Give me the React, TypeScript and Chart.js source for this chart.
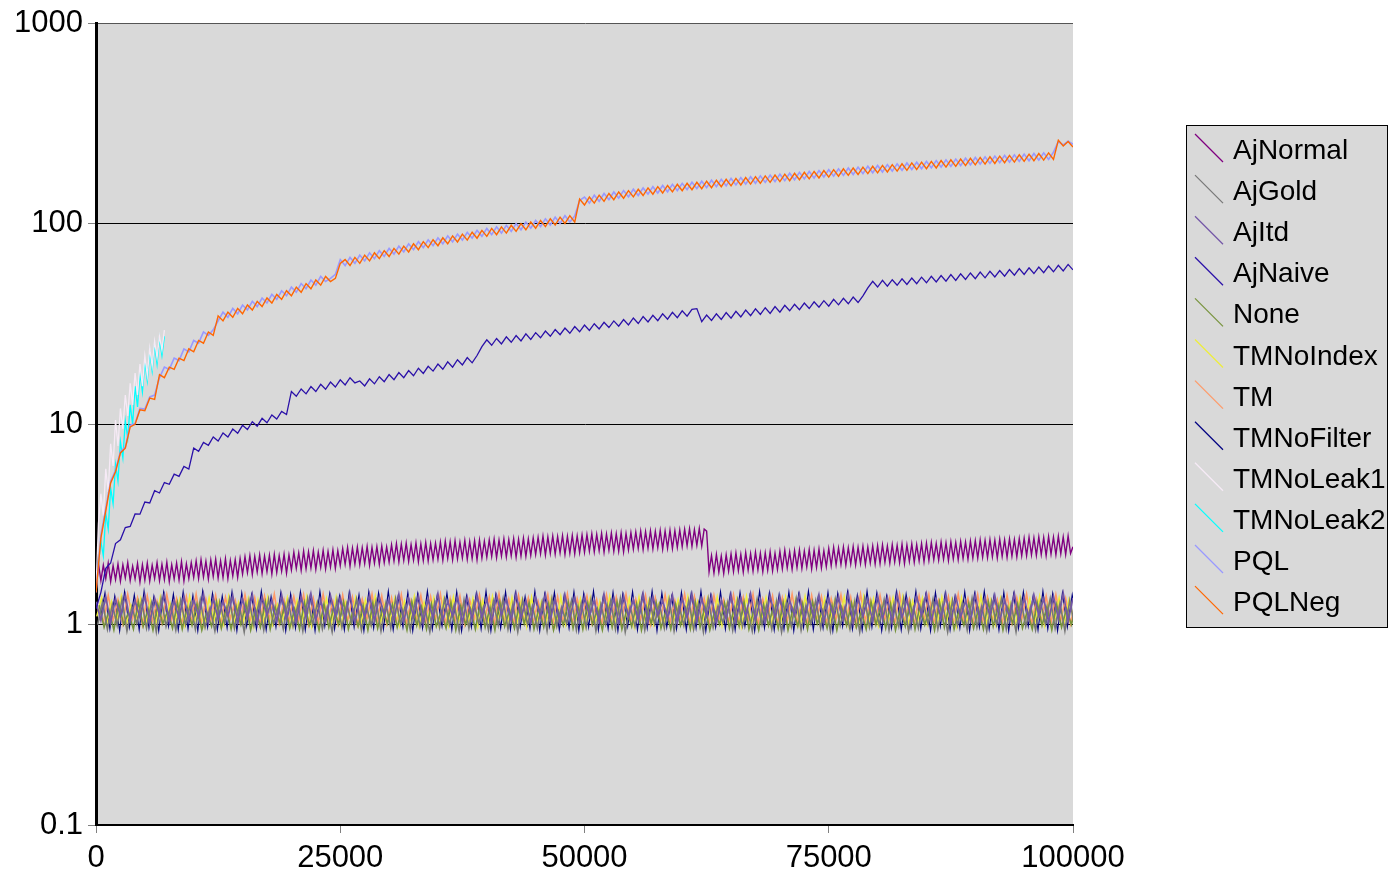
import React, { useEffect, useRef } from 'react';
import { Chart, registerables } from 'chart.js';

Chart.register(...registerables);

const FONT = "'Liberation Sans', Arial, Helvetica, sans-serif";

// ---------- axes ----------
const xTicks = [0, 25000, 50000, 75000, 100000];
const yTicks = [0.1, 1, 10, 100, 1000];
const yTickLabels = ['0.1', '1', '10', '100', '1000'];

// ---------- legend ----------
const seriesNames = ['AjNormal', 'AjGold', 'AjItd', 'AjNaive', 'None', 'TMNoIndex', 'TM', 'TMNoFilter', 'TMNoLeak1', 'TMNoLeak2', 'PQL', 'PQLNeg'];
const seriesColors = ['#800080', '#777777', '#7356a6', '#2a10a8', '#77933c', '#eeee3c', '#ff9966', '#000080', '#f6eaf6', '#00ffff', '#9999ff', '#ff6600'];

// ---------- sampling (x in data units) ----------
const STEP_FINE = 250;
const STEP = 500;
const bandStart = { AjItd: 0, AjGold: 170, None: 330, TMNoIndex: 80, TM: 250, TMNoFilter: 420 };

// ---------- series values ----------
const ajNormal = [
  1.45, 2.02, 1.66, 1.98, 1.70, 2.03, 1.64, 1.97, 1.68, 2.01, 1.65, 1.99, 1.71, 2.04, 1.66, 1.96, 1.69, 2.02, 1.63, 1.99,
  1.67, 2.03, 1.65, 1.98, 1.70, 2.04, 1.66, 2.00, 1.68, 2.05, 1.64, 1.99, 1.69, 2.03, 1.67, 2.06, 1.65, 2.01, 1.70, 2.04,
  1.72, 2.08, 1.70, 2.11, 1.73, 2.07, 1.69, 2.10, 1.74, 2.12, 1.71, 2.08, 1.72, 2.13, 1.70, 2.09, 1.75, 2.11, 1.72, 2.14,
  1.79, 2.18, 1.82, 2.21, 1.78, 2.19, 1.83, 2.23, 1.80, 2.20, 1.84, 2.22, 1.79, 2.24, 1.82, 2.21, 1.85, 2.25, 1.81, 2.23,
  1.88, 2.30, 1.91, 2.28, 1.87, 2.33, 1.90, 2.31, 1.92, 2.34, 1.89, 2.30, 1.93, 2.35, 1.90, 2.32, 1.94, 2.36, 1.91, 2.34,
  1.97, 2.40, 2.00, 2.43, 1.96, 2.41, 2.01, 2.44, 1.99, 2.42, 2.02, 2.46, 1.98, 2.43, 2.03, 2.45, 2.00, 2.47, 2.04, 2.44,
  2.05, 2.50, 2.08, 2.54, 2.06, 2.52, 2.09, 2.55, 2.07, 2.51, 2.10, 2.56, 2.06, 2.53, 2.09, 2.57, 2.08, 2.54, 2.11, 2.55,
  2.12, 2.58, 2.10, 2.61, 2.14, 2.59, 2.11, 2.62, 2.13, 2.58, 2.15, 2.63, 2.12, 2.60, 2.14, 2.62, 2.11, 2.64, 2.15, 2.61,
  2.17, 2.65, 2.19, 2.67, 2.16, 2.64, 2.20, 2.68, 2.18, 2.66, 2.21, 2.69, 2.17, 2.67, 2.20, 2.70, 2.19, 2.68, 2.22, 2.71,
  2.24, 2.73, 2.26, 2.76, 2.23, 2.74, 2.27, 2.77, 2.25, 2.75, 2.28, 2.78, 2.24, 2.76, 2.27, 2.79, 2.26, 2.77, 2.29, 2.80,
  2.30, 2.81, 2.33, 2.84, 2.31, 2.82, 2.34, 2.85, 2.30, 2.83, 2.35, 2.86, 2.32, 2.84, 2.33, 2.87, 2.31, 2.85, 2.36, 2.88,
  2.38, 2.90, 2.40, 2.93, 2.37, 2.91, 2.41, 2.94, 2.39, 2.92, 2.42, 2.95, 2.38, 2.93, 2.41, 2.96, 2.40, 2.94, 2.43, 2.97,
  2.45, 2.99, 2.48, 3.01, 2.46, 2.98, 2.49, 3.02, 2.47, 3.00, 2.93, 1.84, 2.21, 1.81, 2.24, 1.83, 2.20, 1.80, 2.23, 1.85,
  2.25, 1.84, 2.28, 1.86, 2.24, 1.83, 2.29, 1.87, 2.26, 1.85, 2.30, 1.88, 2.27, 1.84, 2.28, 1.87, 2.31, 1.86, 2.27, 1.89,
  2.32, 1.90, 2.35, 1.92, 2.31, 1.89, 2.34, 1.93, 2.36, 1.91, 2.33, 1.94, 2.37, 1.90, 2.35, 1.93, 2.38, 1.92, 2.34, 1.95,
  2.40, 1.97, 2.43, 1.99, 2.41, 2.00, 2.44, 1.98, 2.42, 2.01, 2.45, 1.99, 2.43, 2.02, 2.46, 2.00, 2.44, 2.03, 2.47, 2.01,
  2.48, 2.02, 2.50, 2.05, 2.47, 2.03, 2.51, 2.06, 2.49, 2.04, 2.52, 2.02, 2.50, 2.07, 2.53, 2.05, 2.51, 2.08, 2.54, 2.06,
  2.55, 2.09, 2.57, 2.11, 2.54, 2.10, 2.58, 2.12, 2.56, 2.09, 2.59, 2.13, 2.57, 2.11, 2.60, 2.14, 2.58, 2.12, 2.61, 2.15,
  2.62, 2.15, 2.65, 2.17, 2.63, 2.16, 2.66, 2.18, 2.64, 2.15, 2.67, 2.19, 2.65, 2.17, 2.68, 2.20, 2.66, 2.18, 2.69, 2.21,
  2.70, 2.21, 2.73, 2.23, 2.71, 2.22, 2.74, 2.24, 2.72, 2.21, 2.75, 2.25, 2.73, 2.23, 2.76, 2.26, 2.74, 2.24, 2.77, 2.27,
  2.45,
];

const ajGold = [
  1.00, 1.30, 0.95, 1.26, 0.99, 1.34, 0.93, 1.22, 1.01, 1.31, 0.96, 1.28, 0.92, 1.35, 0.98, 1.24, 0.94, 1.32, 1.00, 1.27,
  0.95, 1.33, 0.97, 1.21, 0.93, 1.30, 1.02, 1.35, 0.96, 1.25, 0.92, 1.32, 0.99, 1.28, 0.94, 1.34, 1.01, 1.23, 0.95, 1.31,
  0.98, 1.26, 0.93, 1.35, 1.00, 1.29, 0.95, 1.22, 0.92, 1.33, 0.97, 1.27, 1.02, 1.34, 0.94, 1.24, 0.99, 1.31, 0.93, 1.28,
  0.96, 1.35, 1.01, 1.25, 0.94, 1.32, 0.98, 1.21, 0.92, 1.30, 0.97, 1.34, 1.00, 1.26, 0.93, 1.33, 0.96, 1.29, 1.02, 1.23,
  0.94, 1.31, 0.99, 1.35, 0.95, 1.27, 0.92, 1.33, 1.00, 1.24, 0.96, 1.30, 0.93, 1.35, 0.98, 1.22, 1.01, 1.32, 0.94, 1.28,
  0.97, 1.34, 0.93, 1.26, 1.00, 1.31, 0.95, 1.35, 0.92, 1.23, 0.98, 1.29, 0.94, 1.33, 1.01, 1.27, 0.96, 1.34, 0.93, 1.25,
  0.99, 1.32, 0.95, 1.28, 0.92, 1.35, 0.97, 1.24, 1.02, 1.30, 0.94, 1.33, 0.98, 1.21, 0.93, 1.34, 1.00, 1.27, 0.95, 1.31,
  0.92, 1.29, 0.98, 1.35, 0.94, 1.25, 1.01, 1.32, 0.96, 1.28, 0.93, 1.34, 0.99, 1.23, 0.95, 1.31, 0.92, 1.35, 0.97, 1.26,
  1.00, 1.33, 0.94, 1.27, 0.98, 1.35, 0.93, 1.22, 0.96, 1.30, 1.01, 1.34, 0.95, 1.26, 0.92, 1.32, 0.99, 1.28, 0.94, 1.35,
  0.97, 1.24, 0.93, 1.31, 1.00, 1.34, 0.95, 1.27, 0.92, 1.33, 0.98, 1.23, 0.94, 1.30, 1.01, 1.35, 0.96, 1.28, 0.93, 1.32,
  0.98,
];

const ajItd = [
  1.30, 1.05, 1.38, 1.02, 1.35, 1.10, 1.41, 1.04, 1.32, 1.08, 1.40, 1.01, 1.36, 1.12, 1.42, 1.03, 1.33, 1.07, 1.39, 1.05,
  1.34, 1.09, 1.43, 1.02, 1.37, 1.06, 1.31, 1.10, 1.40, 1.03, 1.35, 1.08, 1.42, 1.01, 1.38, 1.11, 1.33, 1.04, 1.41, 1.07,
  1.36, 1.02, 1.39, 1.09, 1.43, 1.05, 1.32, 1.03, 1.40, 1.10, 1.37, 1.06, 1.42, 1.02, 1.34, 1.08, 1.41, 1.04, 1.38, 1.11,
  1.33, 1.05, 1.42, 1.03, 1.36, 1.09, 1.40, 1.01, 1.35, 1.07, 1.43, 1.04, 1.31, 1.10, 1.39, 1.02, 1.37, 1.06, 1.41, 1.08,
  1.34, 1.03, 1.40, 1.11, 1.36, 1.04, 1.43, 1.07, 1.32, 1.02, 1.38, 1.09, 1.42, 1.05, 1.35, 1.01, 1.41, 1.08, 1.37, 1.04,
  1.39, 1.10, 1.33, 1.03, 1.42, 1.06, 1.36, 1.02, 1.40, 1.09, 1.34, 1.05, 1.43, 1.03, 1.38, 1.11, 1.32, 1.07, 1.41, 1.02,
  1.37, 1.08, 1.42, 1.04, 1.35, 1.10, 1.39, 1.01, 1.33, 1.06, 1.41, 1.03, 1.36, 1.09, 1.43, 1.05, 1.34, 1.02, 1.40, 1.08,
  1.38, 1.04, 1.32, 1.11, 1.42, 1.03, 1.37, 1.07, 1.41, 1.02, 1.35, 1.09, 1.39, 1.05, 1.43, 1.01, 1.36, 1.10, 1.33, 1.04,
  1.40, 1.06, 1.37, 1.02, 1.42, 1.08, 1.34, 1.04, 1.39, 1.11, 1.43, 1.03, 1.35, 1.07, 1.41, 1.02, 1.38, 1.09, 1.32, 1.05,
  1.42, 1.03, 1.36, 1.10, 1.40, 1.04, 1.33, 1.08, 1.43, 1.02, 1.37, 1.06, 1.41, 1.11, 1.35, 1.03, 1.39, 1.07, 1.44, 1.04,
  1.36,
];

const ajNaive = [
  1.20, 1.45, 1.91, 2.03, 2.54, 2.65, 3.05, 3.09, 3.57, 3.56, 4.09, 4.05, 4.66, 4.54, 5.12, 5.02, 5.64, 5.50, 6.16, 5.98,
  7.61, 7.33, 8.12, 7.86, 8.64, 8.25, 9.06, 8.64, 9.47, 9.02, 9.88, 9.41, 10.30, 9.79, 10.71, 10.18, 11.13, 10.62, 11.59, 11.19,
  14.59, 13.80, 15.01, 14.19, 15.42, 14.57, 15.84, 14.96, 16.25, 15.34, 16.66, 15.73, 17.08, 16.10, 16.46, 15.54, 16.87, 15.92, 17.28, 16.31,
  17.70, 16.69, 18.11, 17.08, 18.53, 17.47, 19.04, 17.95, 19.46, 18.43, 19.98, 18.82, 20.49, 19.30, 21.01, 19.78, 21.53, 20.27, 22.05, 24.41,
  26.39, 24.80, 26.81, 25.19, 27.32, 25.67, 27.74, 26.06, 28.26, 26.54, 28.67, 27.02, 29.19, 27.50, 29.70, 27.99, 30.22, 28.47, 30.74, 28.95,
  31.26, 29.43, 31.77, 29.92, 32.29, 30.40, 32.81, 30.88, 33.33, 31.36, 33.95, 31.85, 34.47, 32.42, 34.98, 32.91, 35.60, 33.49, 36.23, 34.06,
  36.85, 34.64, 37.47, 37.80, 32.52, 35.09, 33.00, 35.60, 33.39, 36.12, 33.87, 36.64, 34.35, 37.16, 34.84, 37.67, 35.32, 38.19, 35.80, 38.71,
  36.28, 39.23, 36.86, 39.74, 37.35, 40.26, 37.83, 40.88, 38.41, 41.40, 38.89, 42.02, 39.47, 42.54, 39.95, 43.16, 40.53, 43.78, 47.96, 51.75,
  48.44, 52.27, 48.93, 52.68, 49.41, 53.20, 49.89, 53.72, 50.37, 54.23, 50.86, 54.75, 51.34, 55.27, 51.82, 55.89, 52.30, 56.41, 52.88, 56.93,
  53.36, 57.55, 53.85, 58.06, 54.43, 58.58, 54.91, 59.20, 55.49, 59.82, 55.97, 60.34, 56.55, 60.96, 57.13, 61.58, 57.71, 62.20, 58.29, 62.82,
  59.00,
];

const none = [
  1.25, 0.97, 1.18, 0.94, 1.28, 1.00, 1.15, 0.95, 1.30, 0.98, 1.20, 0.94, 1.26, 1.01, 1.17, 0.96, 1.29, 0.95, 1.22, 0.99,
  1.27, 0.94, 1.16, 0.98, 1.30, 0.96, 1.21, 0.95, 1.24, 1.00, 1.28, 0.94, 1.19, 0.97, 1.30, 0.95, 1.23, 1.01, 1.26, 0.96,
  1.20, 0.95, 1.29, 0.99, 1.17, 0.94, 1.27, 0.97, 1.22, 1.00, 1.30, 0.95, 1.18, 0.98, 1.25, 0.94, 1.28, 0.96, 1.21, 1.01,
  1.26, 0.97, 1.19, 0.94, 1.30, 0.99, 1.23, 0.95, 1.27, 0.98, 1.16, 0.96, 1.29, 0.94, 1.24, 1.00, 1.20, 0.95, 1.28, 0.97,
  1.22, 0.94, 1.30, 0.98, 1.18, 0.96, 1.26, 1.01, 1.29, 0.95, 1.21, 0.97, 1.27, 0.94, 1.17, 0.99, 1.30, 0.96, 1.24, 0.95,
  1.28, 1.00, 1.20, 0.94, 1.25, 0.97, 1.30, 0.95, 1.19, 0.98, 1.27, 0.94, 1.23, 1.01, 1.29, 0.96, 1.18, 0.95, 1.26, 0.99,
  1.21, 0.95, 1.30, 0.97, 1.24, 0.94, 1.17, 1.00, 1.28, 0.96, 1.22, 0.98, 1.30, 0.95, 1.19, 0.94, 1.26, 0.99, 1.23, 0.96,
  1.29, 0.94, 1.20, 0.98, 1.27, 0.95, 1.30, 1.01, 1.18, 0.96, 1.25, 0.94, 1.22, 0.99, 1.28, 0.97, 1.16, 0.95, 1.30, 1.00,
  1.23, 0.96, 1.27, 0.94, 1.19, 0.98, 1.29, 0.95, 1.24, 1.00, 1.21, 0.94, 1.30, 0.97, 1.26, 0.95, 1.18, 0.99, 1.28, 0.96,
  1.20, 0.95, 1.30, 0.98, 1.25, 0.94, 1.22, 1.01, 1.27, 0.96, 1.17, 0.95, 1.29, 0.99, 1.23, 0.94, 1.26, 0.97, 1.20, 1.00,
  1.24,
];

const tmNoIndex = [
  1.10, 1.36, 1.00, 1.30, 1.02, 1.38, 0.99, 1.25, 1.04, 1.35, 1.00, 1.32, 0.98, 1.37, 1.03, 1.28, 1.01, 1.34, 0.99, 1.38,
  1.02, 1.27, 0.98, 1.36, 1.04, 1.31, 1.00, 1.38, 0.99, 1.29, 1.03, 1.35, 0.98, 1.33, 1.01, 1.37, 1.00, 1.26, 1.04, 1.36,
  0.99, 1.32, 1.02, 1.38, 0.98, 1.28, 1.03, 1.35, 1.00, 1.37, 0.99, 1.30, 1.04, 1.36, 0.98, 1.33, 1.01, 1.38, 1.00, 1.27,
  1.03, 1.35, 0.99, 1.31, 1.02, 1.38, 0.98, 1.29, 1.04, 1.36, 1.00, 1.34, 0.99, 1.37, 1.03, 1.26, 1.01, 1.35, 0.98, 1.32,
  1.00, 1.38, 1.04, 1.28, 0.99, 1.36, 1.02, 1.33, 0.98, 1.37, 1.01, 1.30, 1.03, 1.35, 0.99, 1.38, 1.00, 1.27, 1.04, 1.34,
  0.98, 1.36, 1.01, 1.31, 1.03, 1.38, 0.99, 1.29, 1.02, 1.35, 0.98, 1.37, 1.04, 1.32, 1.00, 1.26, 0.99, 1.36, 1.03, 1.33,
  1.01, 1.38, 0.98, 1.30, 1.02, 1.35, 1.00, 1.37, 0.99, 1.28, 1.04, 1.34, 0.98, 1.38, 1.01, 1.31, 1.03, 1.36, 0.99, 1.29,
  1.02, 1.37, 1.00, 1.33, 0.98, 1.38, 1.03, 1.27, 1.01, 1.35, 0.99, 1.32, 1.04, 1.37, 0.98, 1.30, 1.02, 1.38, 1.00, 1.34,
  0.99, 1.29, 1.03, 1.36, 1.01, 1.38, 0.98, 1.31, 1.02, 1.35, 1.00, 1.27, 0.99, 1.37, 1.04, 1.33, 0.98, 1.36, 1.01, 1.30,
  1.03, 1.38, 0.99, 1.32, 1.00, 1.35, 1.02, 1.28, 0.98, 1.37, 1.04, 1.34, 1.00, 1.38, 0.99, 1.30, 1.03, 1.36, 1.01, 1.33,
  1.05,
];

const tm = [
  1.20, 1.02, 1.40, 1.05, 1.33, 1.01, 1.42, 1.07, 1.36, 1.00, 1.39, 1.04, 1.31, 1.02, 1.41, 1.06, 1.35, 1.00, 1.38, 1.03,
  1.42, 1.01, 1.34, 1.05, 1.40, 1.00, 1.37, 1.07, 1.32, 1.02, 1.41, 1.04, 1.36, 1.00, 1.39, 1.06, 1.42, 1.01, 1.33, 1.03,
  1.38, 1.05, 1.41, 1.00, 1.35, 1.02, 1.42, 1.06, 1.31, 1.01, 1.40, 1.04, 1.37, 1.00, 1.34, 1.07, 1.42, 1.02, 1.39, 1.01,
  1.36, 1.03, 1.41, 1.00, 1.32, 1.05, 1.40, 1.02, 1.38, 1.06, 1.42, 1.01, 1.35, 1.04, 1.39, 1.00, 1.33, 1.07, 1.41, 1.02,
  1.37, 1.00, 1.42, 1.04, 1.34, 1.01, 1.40, 1.06, 1.36, 1.02, 1.31, 1.05, 1.41, 1.00, 1.38, 1.03, 1.42, 1.01, 1.35, 1.07,
  1.39, 1.02, 1.33, 1.00, 1.41, 1.05, 1.37, 1.01, 1.42, 1.04, 1.34, 1.06, 1.40, 1.00, 1.36, 1.03, 1.41, 1.02, 1.32, 1.05,
  1.42, 1.01, 1.38, 1.04, 1.35, 1.00, 1.40, 1.06, 1.33, 1.02, 1.41, 1.03, 1.37, 1.05, 1.42, 1.00, 1.34, 1.07, 1.39, 1.01,
  1.36, 1.04, 1.42, 1.02, 1.31, 1.00, 1.40, 1.05, 1.38, 1.01, 1.35, 1.06, 1.41, 1.03, 1.37, 1.00, 1.42, 1.04, 1.33, 1.02,
  1.40, 1.06, 1.36, 1.01, 1.42, 1.03, 1.34, 1.00, 1.39, 1.05, 1.41, 1.02, 1.32, 1.07, 1.38, 1.01, 1.42, 1.04, 1.35, 1.00,
  1.41, 1.03, 1.37, 1.05, 1.33, 1.01, 1.40, 1.02, 1.36, 1.06, 1.42, 1.00, 1.34, 1.04, 1.39, 1.02, 1.41, 1.05, 1.35, 1.01,
  1.30,
];

const tmNoFilter = [
  1.05, 1.44, 0.95, 1.39, 0.93, 1.46, 0.97, 1.41, 0.94, 1.47, 0.96, 1.38, 0.93, 1.45, 0.98, 1.42, 0.94, 1.46, 0.95, 1.40,
  0.93, 1.47, 0.97, 1.43, 0.94, 1.39, 0.96, 1.46, 0.93, 1.44, 0.98, 1.41, 0.95, 1.47, 0.94, 1.38, 0.97, 1.45, 0.93, 1.42,
  0.96, 1.46, 0.94, 1.40, 0.93, 1.47, 0.98, 1.43, 0.95, 1.39, 0.94, 1.45, 0.97, 1.41, 0.93, 1.46, 0.96, 1.44, 0.95, 1.47,
  0.94, 1.38, 0.97, 1.45, 0.93, 1.42, 0.96, 1.47, 0.95, 1.40, 0.98, 1.44, 0.94, 1.46, 0.93, 1.39, 0.97, 1.43, 0.95, 1.47,
  0.93, 1.41, 0.96, 1.46, 0.94, 1.44, 0.97, 1.38, 0.95, 1.47, 0.93, 1.42, 0.98, 1.45, 0.94, 1.40, 0.96, 1.46, 0.93, 1.43,
  0.97, 1.47, 0.94, 1.39, 0.95, 1.45, 0.93, 1.42, 0.98, 1.46, 0.94, 1.41, 0.96, 1.47, 0.93, 1.44, 0.97, 1.38, 0.95, 1.45,
  0.94, 1.43, 0.96, 1.47, 0.93, 1.40, 0.97, 1.46, 0.95, 1.42, 0.94, 1.45, 0.98, 1.39, 0.93, 1.47, 0.96, 1.44, 0.94, 1.41,
  0.95, 1.46, 0.93, 1.42, 0.97, 1.47, 0.94, 1.38, 0.96, 1.45, 0.93, 1.43, 0.98, 1.46, 0.95, 1.40, 0.94, 1.47, 0.97, 1.44,
  0.93, 1.39, 0.96, 1.46, 0.94, 1.42, 0.97, 1.47, 0.95, 1.41, 0.93, 1.45, 0.98, 1.44, 0.94, 1.38, 0.96, 1.46, 0.93, 1.43,
  0.97, 1.47, 0.95, 1.40, 0.94, 1.45, 0.93, 1.42, 0.96, 1.46, 0.98, 1.39, 0.94, 1.47, 0.95, 1.43, 0.93, 1.44, 0.97, 1.41,
  1.00,
];

const tmNoLeak1 = [
  1.5, 3.2, 4.5, 3.5, 6.0, 4.6, 8.0, 6.2, 10.5, 7.8, 12.0, 9.5, 14.0, 11.0, 16.0, 12.5, 18.0, 14.0, 20.0, 15.5,
  22.0, 17.5, 24.0, 19.5, 26.0, 21.5, 27.5, 23.5, 29.5,
];

const tmNoLeak2 = [
  1.5, 2.0, 2.6, 2.2, 3.6, 3.0, 4.8, 4.0, 6.3, 5.2, 8.2, 6.8, 10.4, 8.5, 12.5, 10.0, 15.5, 12.2, 18.0, 14.5,
  20.5, 16.5, 23.0, 18.5, 25.0, 20.0, 26.8, 22.0, 27.5,
];

const pql = [
  1.45, 2.8, 3.8, 5.2, 5.9, 7.3, 7.7, 9.9, 10.1, 12.0, 11.9, 13.7, 14.0,
  17.1, 19.3, 18.8, 21.4, 20.8, 23.8, 23.0, 26.2, 25.4, 28.9, 27.8,
  29.6,
  32.8, 36.3, 34.2, 37.9, 35.6, 39.4, 37.2, 41.1, 38.7, 42.7, 40.3, 44.5, 42.0, 46.4, 43.8, 48.4, 45.6, 50.4, 47.5, 52.5, 49.5, 54.7, 51.6,
  53.5, 56.0,
  66.4, 62.0, 68.1, 63.6, 69.9, 65.4, 71.8, 67.1, 73.6, 68.8, 75.5, 70.7, 77.5, 72.5, 79.6, 74.4, 81.6, 76.2, 83.4, 77.9,
  85.3, 79.6, 87.2, 81.3, 89.0, 83.0, 90.9, 84.9, 92.9, 86.7, 95.0, 88.4, 96.7, 90.0, 98.5, 91.8, 100.4, 93.5, 102.2, 95.2,
  104.1, 97.0, 106.1, 98.8, 108.1, 100.6, 110.0, 102.2,
  109.5, 131,
  136.2, 127.1, 139.2, 129.7, 141.9, 132.1, 144.4, 134.4, 146.7, 136.5, 149.0, 138.6, 151.3, 140.7, 153.5, 142.7, 155.6, 144.6, 157.7,
  146.5, 159.6, 148.2, 161.5, 150.0, 163.4, 151.7, 165.3, 153.4, 167.1, 155.0, 168.8, 156.6, 170.5, 158.1, 172.1, 159.6, 173.8, 161.2, 175.4,
  162.7, 177.2, 164.4, 179.1, 166.2, 181.0, 167.9, 182.8, 169.6, 184.7, 171.4, 186.6, 173.1, 188.4, 174.8, 190.3, 176.5, 192.2, 178.3, 194.1,
  180.0, 195.9, 181.7, 197.8, 183.5, 199.7, 185.2, 201.6, 186.9, 203.4, 188.6, 205.3, 190.4, 207.2, 192.1, 209.0, 193.8, 210.9, 195.6, 212.8,
  197.3, 214.7, 199.0, 216.4, 200.5, 218.1, 202.1, 219.8, 203.6, 221.4, 205.2, 223.1, 206.7, 224.7, 208.2, 226.4, 209.8,
  228, 258, 248, 259, 250,
];

const pqlNeg = [
  1.45, 2.7, 3.7, 5.1, 5.8, 7.2, 7.6, 9.7, 10.0, 11.8, 11.7, 13.5, 13.3, 17.7, 17.1, 19.3, 18.8, 21.4, 20.8, 23.8,
  23.0, 26.2, 25.4, 28.9, 27.8, 34.8, 32.8, 36.3, 34.2, 37.9, 35.6, 39.4, 37.2, 41.1, 38.7, 42.7, 40.3, 44.5, 42.0, 46.4,
  43.8, 48.4, 45.6, 50.4, 47.5, 52.5, 49.5, 54.7, 51.6, 53.5, 63.5, 66.4, 62.0, 68.1, 63.6, 69.9, 65.4, 71.8, 67.1, 73.6,
  68.8, 75.5, 70.7, 77.5, 72.5, 79.6, 74.4, 81.6, 76.2, 83.4, 77.9, 85.3, 79.6, 87.2, 81.3, 89.0, 83.0, 90.9, 84.9, 92.9,
  86.7, 95.0, 88.4, 96.7, 90.0, 98.5, 91.8, 100.4, 93.5, 102.2, 95.2, 104.1, 97.0, 106.1, 98.8, 108.1, 100.6, 110.0, 102.2, 133,
  124.3, 136.2, 127.1, 139.2, 129.7, 141.9, 132.1, 144.4, 134.4, 146.7, 136.5, 149.0, 138.6, 151.3, 140.7, 153.5, 142.7, 155.6, 144.6, 157.7,
  146.5, 159.6, 148.2, 161.5, 150.0, 163.4, 151.7, 165.3, 153.4, 167.1, 155.0, 168.8, 156.6, 170.5, 158.1, 172.1, 159.6, 173.8, 161.2, 175.4,
  162.7, 177.2, 164.4, 179.1, 166.2, 181.0, 167.9, 182.8, 169.6, 184.7, 171.4, 186.6, 173.1, 188.4, 174.8, 190.3, 176.5, 192.2, 178.3, 194.1,
  180.0, 195.9, 181.7, 197.8, 183.5, 199.7, 185.2, 201.6, 186.9, 203.4, 188.6, 205.3, 190.4, 207.2, 192.1, 209.0, 193.8, 210.9, 195.6, 212.8,
  197.3, 214.7, 199.0, 216.4, 200.5, 218.1, 202.1, 219.8, 203.6, 221.4, 205.2, 223.1, 206.7, 224.7, 208.2, 226.4, 209.8, 262, 245, 258,
  242,
];

// ---------- helpers ----------
const toPoints = (ys: number[], step: number, start: number) => ys.map((y, i) => ({ x: start + i * step, y }));

const colorOf = (name: string) => seriesColors[seriesNames.indexOf(name)];

const mk = (name: string, ys: number[], step: number, start: number, width: number, order: number) => ({
  label: name,
  data: toPoints(ys, step, start),
  borderColor: colorOf(name),
  backgroundColor: colorOf(name),
  borderWidth: width,
  pointRadius: 0,
  pointHoverRadius: 0,
  tension: 0,
  fill: false,
  order,
});

const PLOT_BG = '#d9d9d9';

const bgPlugin = {
  id: 'plotBg',
  beforeDraw(chart: any) {
    const { ctx, chartArea } = chart;
    ctx.save();
    ctx.fillStyle = PLOT_BG;
    ctx.fillRect(chartArea.left, chartArea.top, chartArea.right - chartArea.left, chartArea.bottom - chartArea.top);
    ctx.restore();
  },
};

const legendPlugin = {
  id: 'boxLegend',
  afterDraw(chart: any) {
    const ctx = chart.ctx;
    ctx.save();
    ctx.fillStyle = PLOT_BG;
    ctx.fillRect(1186.5, 125.5, 201, 502);
    ctx.strokeStyle = '#000';
    ctx.lineWidth = 1;
    ctx.strokeRect(1186.5, 125.5, 201, 502);
    ctx.font = `28px ${FONT}`;
    ctx.textBaseline = 'alphabetic';
    ctx.textAlign = 'left';
    seriesNames.forEach((n, i) => {
      const base = 159 + i * 41.1;
      ctx.strokeStyle = seriesColors[i];
      ctx.lineWidth = 1.3;
      ctx.beginPath();
      ctx.moveTo(1195, base - 25);
      ctx.lineTo(1223, base + 3);
      ctx.stroke();
      ctx.fillStyle = '#000';
      ctx.fillText(n, 1233, base);
    });
    ctx.restore();
  },
};

export default function App() {
  const ref = useRef<HTMLCanvasElement | null>(null);

  useEffect(() => {
    if (!ref.current) return;
    const datasets = [
      mk('PQLNeg', pqlNeg, STEP, 0, 1.4, 1),
      mk('PQL', pql, STEP, 0, 1.6, 2),
      mk('TMNoLeak1', tmNoLeak1, STEP_FINE, 0, 1.3, 3),
      mk('TMNoLeak2', tmNoLeak2, STEP_FINE, 0, 1.3, 4),
      mk('AjNaive', ajNaive, STEP, 0, 1.3, 5),
      mk('AjNormal', ajNormal, STEP_FINE, 0, 1.4, 6),
      mk('AjItd', ajItd, STEP, bandStart.AjItd, 1.6, 7),
      mk('AjGold', ajGold, STEP, bandStart.AjGold, 1.6, 8),
      mk('None', none, STEP, bandStart.None, 1.6, 9),
      mk('TMNoIndex', tmNoIndex, STEP, bandStart.TMNoIndex, 1.6, 10),
      mk('TM', tm, STEP, bandStart.TM, 1.6, 11),
      mk('TMNoFilter', tmNoFilter, STEP, bandStart.TMNoFilter, 1.1, 12),
    ];

    const chart = new Chart(ref.current, {
      type: 'line',
      data: { datasets },
      options: {
        responsive: false,
        animation: false,
        devicePixelRatio: 1,
        layout: { padding: { left: 0, top: 21, right: 315, bottom: 0 } },
        plugins: {
          legend: { display: false },
          tooltip: { enabled: false },
          title: { display: false },
        },
        scales: {
          x: {
            type: 'linear',
            min: 0,
            max: 100000,
            afterBuildTicks: (s: any) => {
              s.ticks = xTicks.map((v) => ({ value: v }));
            },
            afterFit: (s: any) => {
              s.height = 48;
            },
            ticks: {
              autoSkip: false,
              maxRotation: 0,
              padding: 7,
              color: '#000',
              font: { family: FONT, size: 31 },
              callback: (v: any) => String(v),
            },
            grid: {
              drawOnChartArea: false,
              drawTicks: true,
              tickLength: 8,
              tickColor: '#808080',
            },
            border: { display: true, color: '#000', width: 2 },
          },
          y: {
            type: 'logarithmic',
            min: 0.1,
            max: 1000,
            afterBuildTicks: (s: any) => {
              s.ticks = yTicks.map((v) => ({ value: v }));
            },
            afterFit: (s: any) => {
              s.width = 96;
            },
            ticks: {
              autoSkip: false,
              padding: 5,
              color: '#000',
              font: { family: FONT, size: 31 },
              callback: (v: any) => {
                const i = yTicks.indexOf(Number(v));
                return i >= 0 ? yTickLabels[i] : '';
              },
            },
            grid: {
              drawOnChartArea: true,
              drawTicks: true,
              tickLength: 8,
              tickColor: '#808080',
              lineWidth: 1,
              color: (c: any) => (c.tick && c.tick.value === 1000 ? '#555555' : '#000000'),
            },
            border: { display: true, color: '#000', width: 3 },
          },
        },
      },
      plugins: [bgPlugin, legendPlugin],
    } as any);

    return () => chart.destroy();
  }, []);

  return (
    <div style={{ position: 'fixed', left: 0, top: 0, width: 1388, height: 873, background: '#fff' }}>
      <canvas ref={ref} width={1388} height={873} style={{ width: 1388, height: 873, display: 'block' }} />
    </div>
  );
}
